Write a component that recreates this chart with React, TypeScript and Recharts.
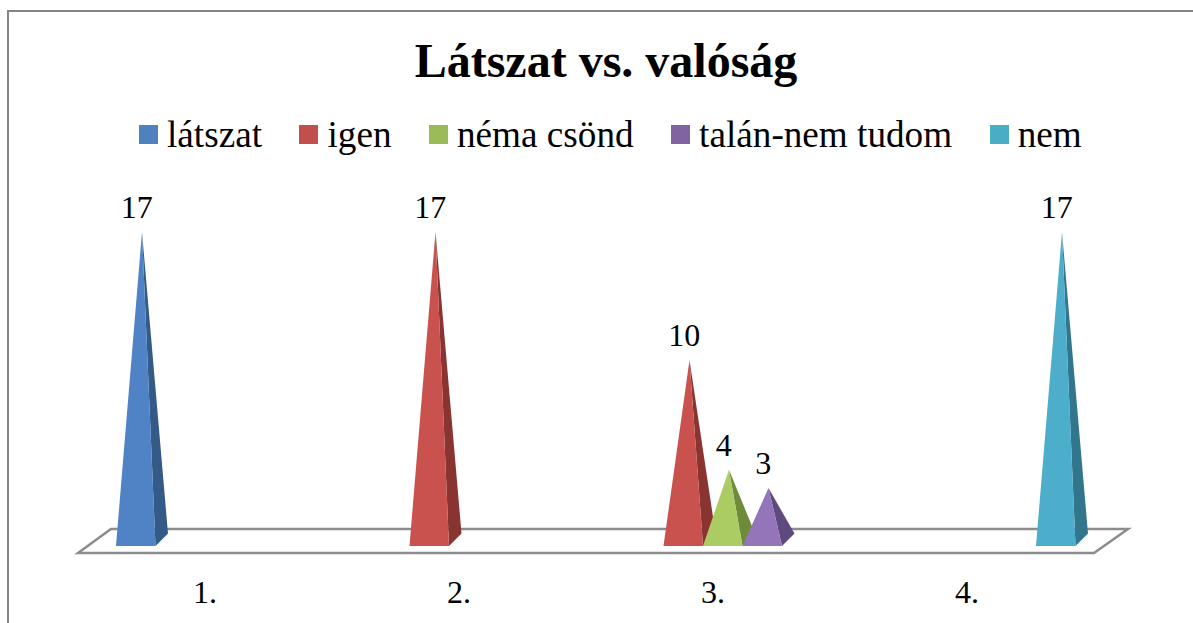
import { BarChart, Bar, XAxis, YAxis, Legend, LabelList, usePlotArea } from 'recharts'

const categories = ['1.', '2.', '3.', '4.']
const seriesNames = ['látszat', 'igen', 'néma csönd', 'talán-nem tudom', 'nem']
const latszat = [17, null, null, null]
const igen = [null, 17, 10, null]
const nemaCsond = [null, null, 4, null]
const talan = [null, null, 3, null]
const nem = [null, null, null, 17]

const seriesValues = [latszat, igen, nemaCsond, talan, nem]

const legendColors = ['#4F81BD', '#C0504D', '#9BBB59', '#8064A2', '#4BACC6']
const frontColors = ['#5082C6', '#C9524F', '#ABCC63', '#9475B9', '#4CAECB']
const sideColors = ['#345A88', '#8A3432', '#6E8A3B', '#5F4A80', '#31768C']

const data = categories.map((name, c) => {
  const row: Record<string, string | number | null> = { name }
  seriesNames.forEach((s, i) => {
    row[s] = seriesValues[i][c]
  })
  return row
})

const font = '"Liberation Serif", "Times New Roman", serif'
const SHIFT = 10 // the 3d plot sits right of the axis band
const DEPTH = 12.5

function pyramid(front: string, side: string) {
  return (props: any) => {
    const { x, y, width, height } = props
    if (!height) return <g />
    const left = x + SHIFT
    const right = left + width
    const base = y + height + 3
    const apexX = left + width / 2 + DEPTH / 2
    return (
      <g>
        <polygon
          points={`${right},${base} ${right + DEPTH},${base - DEPTH} ${apexX},${y}`}
          fill={side}
        />
        <polygon points={`${left},${base} ${right},${base} ${apexX},${y}`} fill={front} />
      </g>
    )
  }
}

function pyramidLabel(props: any) {
  const { x, y, width, value } = props
  if (value == null) return null
  return (
    <text
      x={x + width / 2 + SHIFT + 1}
      y={y - 14}
      textAnchor="middle"
      fontFamily={font}
      fontSize={32}
      fill="#000"
    >
      {value}
    </text>
  )
}

function Floor() {
  const plot = usePlotArea()
  if (!plot) return null
  const bottom = plot.y + plot.height
  const left = plot.x
  const right = plot.x + plot.width
  return (
    <polygon
      points={`${left},${bottom + 10} ${right},${bottom + 10} ${right + 34},${bottom - 14} ${left + 33},${bottom - 14}`}
      fill="none"
      stroke="#8C8C8C"
      strokeWidth={2.5}
    />
  )
}

function LegendRow({ payload }: any) {
  return (
    <div style={{ display: 'flex', fontFamily: font, fontSize: 37.2, lineHeight: '44px', color: '#000' }}>
      {(payload || []).map((item: any) => (
        <div key={item.value} style={{ display: 'flex', alignItems: 'center', marginRight: 37.5 }}>
          <span style={{ width: 19, height: 19, background: item.color, marginRight: 9 }} />
          <span style={{ position: 'relative', top: 1 }}>{item.value}</span>
        </div>
      ))}
    </div>
  )
}

export default function App() {
  return (
    <div style={{ position: 'fixed', left: 0, top: 0, width: 1193, height: 623, overflow: 'hidden', background: '#fff' }}>
      <div
        style={{
          position: 'absolute',
          left: 7,
          top: 10,
          width: 1300,
          height: 700,
          border: '2px solid #868686',
        }}
      />
      <div
        style={{
          position: 'absolute',
          left: 0,
          top: 33,
          width: 1212,
          textAlign: 'center',
          fontFamily: font,
          fontWeight: 'bold',
          fontSize: 48,
          lineHeight: '55px',
          color: '#000',
        }}
      >
        Látszat vs. valóság
      </div>
      <BarChart
        width={1193}
        height={623}
        data={data}
        margin={{ top: 232, right: 99, bottom: 40, left: 78 }}
        barSize={39.5}
        barGap={0}
        style={{ position: 'absolute', left: 0, top: 0 }}
      >
        <Floor />
        <XAxis
          dataKey="name"
          axisLine={false}
          tickLine={false}
          height={40}
          interval={0}
          tick={{ fontSize: 32, fontFamily: font, fill: '#000' }}
          tickMargin={31}
        />
        <YAxis hide domain={[0, 17]} />
        <Legend
          layout="horizontal"
          verticalAlign="middle"
          itemSorter={null}
          content={<LegendRow />}
          wrapperStyle={{ left: 139, top: 112, width: 1054 }}
        />
        {seriesNames.map((s, i) => (
          <Bar
            key={s}
            dataKey={s}
            fill={legendColors[i]}
            shape={pyramid(frontColors[i], sideColors[i])}
            isAnimationActive={false}
          >
            <LabelList dataKey={s} content={pyramidLabel} />
          </Bar>
        ))}
      </BarChart>
    </div>
  )
}
